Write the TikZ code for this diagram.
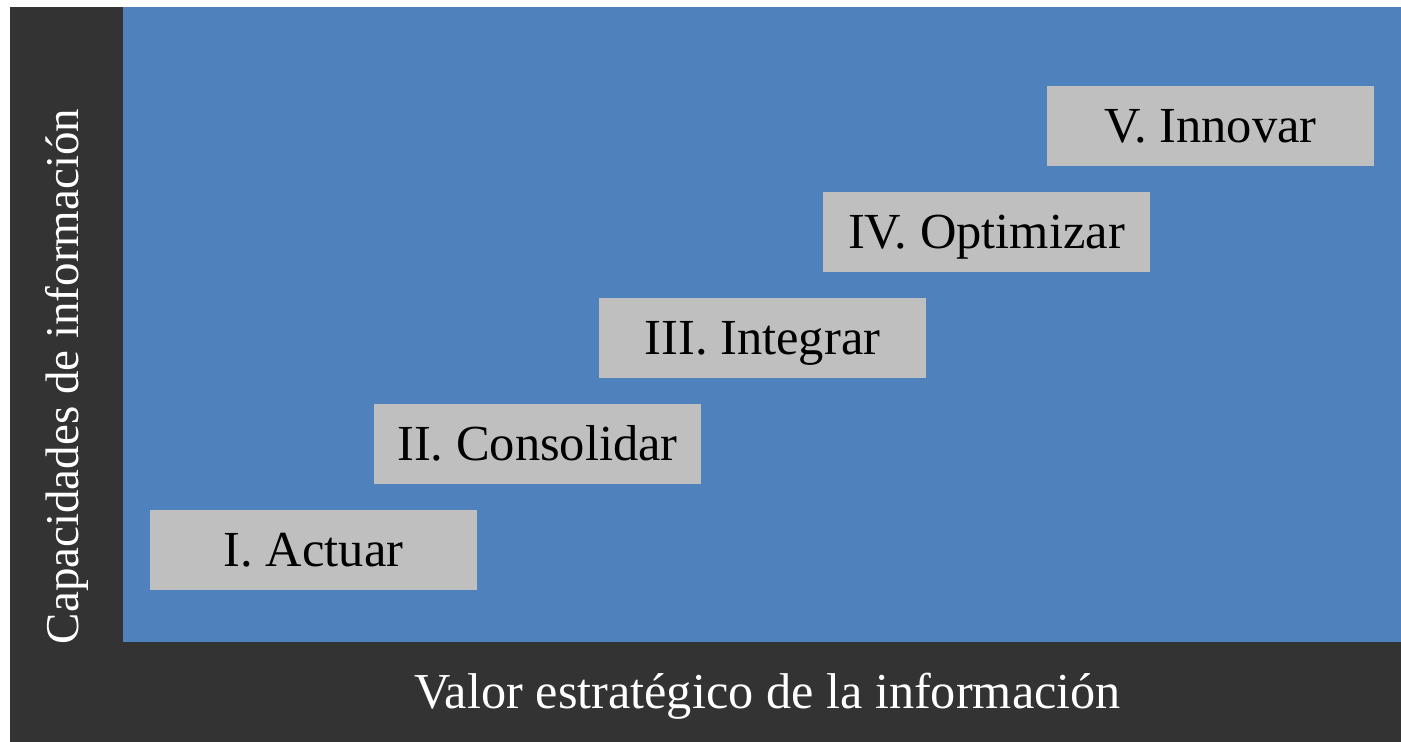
\documentclass[tikz,border=0pt]{standalone}
\usepackage{fontspec}
\setmainfont{Liberation Serif}
\definecolor{darkbg}{HTML}{333333}
\definecolor{bluebg}{HTML}{4F81BD}
\definecolor{stepgray}{HTML}{BFBFBF}
\tikzset{
  stagebox/.style={fill=stepgray, draw=none, minimum width=327pt, minimum height=80pt, inner sep=0pt, text height=33.4pt, text depth=0pt, font=\fontsize{50.5}{60}\selectfont, text=black},
  axislabel/.style={inner sep=0pt, text height=33.3pt, text depth=0pt, font=\fontsize{50.3}{60}\selectfont, text=white}
}
\begin{document}
\begin{tikzpicture}[x=1pt,y=-1pt]
\useasboundingbox (0,0) rectangle (1401,742);
\fill[white] (0,0) rectangle (1401,742);
\fill[darkbg] (10,7) rectangle (1401,742);
\fill[bluebg] (123,7) rectangle (1401,642);
\node[stagebox] (s1) at (313.5,550) {I. Actuar};
\node[stagebox] (s2) at (537.5,444) {II. Consolidar};
\node[stagebox] (s3) at (762.5,338) {III. Integrar};
\node[stagebox] (s4) at (986.5,232) {IV. Optimizar};
\node[stagebox] (s5) at (1210.5,126) {V. Innovar};
\node[axislabel] (xl) at (767.5,691.5) {Valor estratégico de la información};
\node[axislabel, rotate=90, text height=31pt, font=\fontsize{47}{56}\selectfont] (yl) at (62.5,376.5) {Capacidades de información};
\end{tikzpicture}
\end{document}
